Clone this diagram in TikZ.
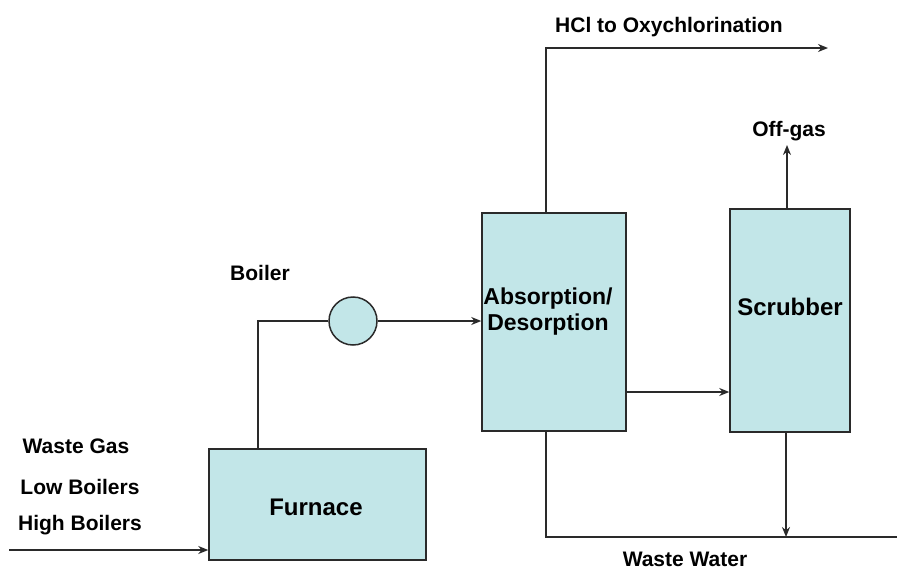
\documentclass[tikz,border=0pt]{standalone}
\usepackage{fontspec}
\setmainfont{Liberation Sans}
\usetikzlibrary{arrows.meta}
\definecolor{boxfill}{HTML}{C2E6E8}
\definecolor{edge}{HTML}{2A2A2A}
\begin{document}
\begin{tikzpicture}[x=1pt,y=-1pt,
  unit/.style={draw=edge,line width=1.5pt,fill=boxfill,inner sep=0pt,font=\bfseries\fontsize{24}{28}\selectfont,align=center},
  lbl/.style={inner sep=0pt,font=\bfseries\fontsize{21}{25}\selectfont},
  flow/.style={draw=edge,line width=1.7pt},
  arr/.style={flow,-{Stealth[length=10pt,width=8pt]}}]
\useasboundingbox (0,0) rectangle (897,570);
\node[unit,minimum width=217pt,minimum height=111pt] (furnace) at (317.5,504.5) {};
\node[font=\bfseries\fontsize{24}{28}\selectfont,inner sep=0pt] (furntxt) at (316,507) {Furnace};
\node[unit,minimum width=144pt,minimum height=218pt] (abs) at (554,322) {};
\node[font=\bfseries\fontsize{23}{26}\selectfont,align=center,inner sep=0pt] (abstxt) at (548,312) {Absorption/\\Desorption};
\node[unit,minimum width=120pt,minimum height=223pt] (scrub) at (790,320.5) {};
\node[font=\bfseries\fontsize{24}{28}\selectfont,inner sep=0pt] (scrubtxt) at (790,307) {Scrubber};
\node[draw=edge,line width=1.5pt,fill=boxfill,circle,minimum size=48pt,inner sep=0pt] (boiler) at (353,321) {};
\node[lbl] (boilerlbl) at (260,273) {Boiler};
\node[lbl] (hcl) at (669,27) {HCl to Oxychlorination};
\node[lbl] (offgas) at (789,131) {Off-gas};
\node[lbl] (ww) at (685,559) {Waste Water};
\node[lbl] (wg) at (76,446) {Waste Gas};
\node[lbl] (lb) at (80,487) {Low Boilers};
\node[lbl] (hb) at (80,525) {High Boilers};
\coordinate (inl) at (9,550);
\coordinate (hclend) at (828,48);
\coordinate (offend) at (787,145);
\coordinate (wwend) at (897,537);
% connectors
\draw[arr] (inl) -- (furnace.west |- inl);
\draw[flow] (258,449) |- (boiler.west);
\draw[arr] (boiler.east) -- (abs.west |- boiler.east);
\draw[arr] (546,213) |- (hclend);
\draw[arr] (787,209) -- (offend);
\draw[arr] (626,392) -- (scrub.west |- 0,392);
\draw[flow] (546,431) |- (wwend);
\draw[arr] (786,432) -- (786,537);
\end{tikzpicture}
\end{document}
